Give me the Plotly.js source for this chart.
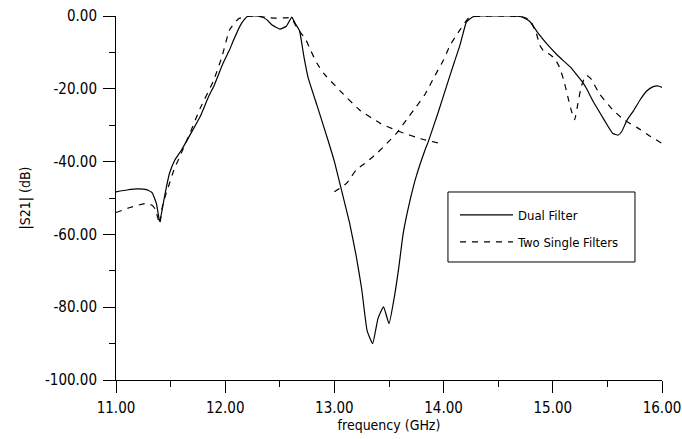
<!DOCTYPE html>
<html>
<head>
<meta charset="utf-8">
<script src="https://cdn.plot.ly/plotly-3.0.1.min.js"></script>
<style>html,body{margin:0;padding:0;background:#fff;}#chart{width:682px;height:439px;}</style>
</head>
<body>
<div id="chart"></div>
<script>
// Dual Filter |S21| (dB)
const dualFreq = [11.00,11.10,11.20,11.28,11.33,11.37,11.40,11.43,11.45,11.49,11.54,11.60,11.70,11.77,11.85,11.90,11.98,12.04,12.07,12.14,12.18,12.21,12.28,12.33,12.38,12.43,12.50,12.56,12.58,12.61,12.64,12.68,12.72,12.76,12.84,12.94,13.00,13.05,13.14,13.20,13.25,13.30,13.35,13.40,13.45,13.50,13.55,13.59,13.63,13.69,13.75,13.83,13.86,13.95,14.03,14.10,14.15,14.21,14.27,14.35,14.50,14.65,14.72,14.79,14.86,14.95,15.05,15.16,15.22,15.28,15.31,15.37,15.43,15.50,15.55,15.60,15.63,15.68,15.74,15.80,15.86,15.92,15.96,16.00];
const dualS21 = [-48.3,-47.8,-47.5,-47.7,-48.5,-51.5,-56.5,-52.0,-48.7,-43.2,-39.5,-36.8,-31.5,-27.7,-22.0,-19.0,-13.0,-9.3,-7.1,-2.5,-0.8,0.0,0.0,-0.2,-1.0,-2.5,-3.6,-2.8,-1.8,-0.3,-2.0,-4.0,-11.0,-17.0,-24.5,-34.0,-40.0,-46.0,-57.0,-66.0,-75.0,-86.5,-90.0,-83.0,-79.9,-84.5,-77.0,-69.0,-59.7,-51.0,-44.0,-36.8,-34.5,-26.5,-19.0,-12.5,-8.0,-1.6,-0.2,0.0,0.0,0.0,-0.3,-1.5,-4.5,-7.8,-11.0,-14.0,-16.2,-18.5,-20.0,-23.5,-26.5,-30.0,-32.3,-32.7,-31.8,-28.6,-26.0,-23.0,-20.6,-19.4,-19.2,-19.6];

// Single filter 1 (lower band)
const single1Freq = [11.00,11.13,11.27,11.33,11.36,11.40,11.43,11.48,11.53,11.59,11.68,11.77,11.89,11.97,12.04,12.12,12.20,12.30,12.40,12.47,12.55,12.60,12.62,12.65,12.74,12.78,12.84,12.90,13.05,13.23,13.42,13.60,13.80,14.00];
const single1S21 = [-54.0,-52.6,-51.5,-52.0,-53.1,-57.1,-51.5,-46.9,-42.3,-38.2,-32.0,-25.4,-18.0,-11.2,-3.8,-0.8,-0.1,-0.1,-0.5,-0.6,-0.5,-0.5,-1.1,-2.9,-6.6,-9.3,-13.0,-15.7,-20.5,-25.8,-29.5,-31.8,-33.8,-35.2];

// Single filter 2 (upper band)
const single2Freq = [13.00,13.11,13.20,13.30,13.39,13.48,13.57,13.66,13.75,13.83,13.91,14.00,14.06,14.15,14.23,14.29,14.50,14.72,14.79,14.85,14.88,14.92,14.97,15.02,15.06,15.10,15.14,15.17,15.20,15.23,15.26,15.29,15.31,15.35,15.43,15.55,15.65,15.77,15.88,16.00];
const single2S21 = [-48.3,-46.0,-42.3,-40.0,-37.7,-35.0,-32.2,-28.5,-24.9,-21.5,-17.0,-12.0,-8.0,-3.8,-0.5,-0.1,0.0,-0.2,-1.1,-4.8,-8.0,-9.8,-10.5,-11.8,-14.0,-17.6,-22.5,-26.0,-28.5,-24.0,-19.5,-17.0,-16.3,-17.3,-21.5,-25.8,-28.5,-30.6,-32.8,-35.0];

const xTickVals = [11,12,13,14,15,16];
const xTickText = ['11.00','12.00','13.00','14.00','15.00','16.00'];
const xMinorVals = [11.5,12.5,13.5,14.5,15.5];
const yTickVals = [0,-20,-40,-60,-80,-100];
const yTickText = ['0.00','-20.00','-40.00','-60.00','-80.00','-100.00'];
const yMinorVals = [-10,-30,-50,-70,-90];

const FONT = '"DejaVu Sans Condensed", "DejaVu Sans", sans-serif';

const traces = [
  {x: dualFreq, y: dualS21, mode: 'lines', name: 'Dual Filter', legendgroup: 'a',
   line: {color: '#000', width: 1.2, shape: 'spline', smoothing: 0.4}},
  {x: single1Freq, y: single1S21, mode: 'lines', name: 'Two Single Filters', legendgroup: 'b',
   line: {color: '#000', width: 1.2, dash: '6px,6px', shape: 'spline', smoothing: 0.4}},
  {x: single2Freq, y: single2S21, mode: 'lines', name: 'Two Single Filters', legendgroup: 'b', showlegend: false,
   line: {color: '#000', width: 1.2, dash: '6px,6px', shape: 'spline', smoothing: 0.4}}
];

const axisCommon = {
  showline: true, linecolor: '#000', linewidth: 1, showgrid: false, zeroline: false,
  ticks: 'outside', ticklen: 12, tickwidth: 1, tickcolor: '#000', tickmode: 'array',
  tickfont: {family: FONT, size: 15, color: '#000'}
};

const layout = {
  width: 682, height: 439,
  margin: {l: 116, r: 20, t: 16, b: 59},
  paper_bgcolor: '#fff', plot_bgcolor: '#fff',
  font: {family: FONT, color: '#000'},
  showlegend: true,
  xaxis: Object.assign({}, axisCommon, {
    range: [11, 16], tickvals: xTickVals, ticktext: xTickText, ticklabelstandoff: 2,
    minor: {tickmode: 'array', tickvals: xMinorVals, ticks: 'outside', ticklen: 6, tickcolor: '#000', tickwidth: 1},
    title: {text: 'frequency (GHz)', font: {family: FONT, size: 14, color: '#000'}, standoff: 4}
  }),
  yaxis: Object.assign({}, axisCommon, {
    range: [-100, 0], tickvals: yTickVals, ticktext: yTickText, ticklabelstandoff: 3,
    minor: {tickmode: 'array', tickvals: yMinorVals, ticks: 'outside', ticklen: 6, tickcolor: '#000', tickwidth: 1},
    title: {text: '|S21| (dB)', font: {family: FONT, size: 14, color: '#000'}, standoff: 11}
  }),
  shapes: [
    {type: 'rect', xref: 'paper', yref: 'paper', x0: 0.608, x1: 0.9505, y0: 0.3242, y1: 0.5165,
     line: {color: '#000', width: 1}, fillcolor: '#fff', layer: 'above'}
  ],
  legend: {
    x: 0.6209, y: 0.4945, xanchor: 'left', yanchor: 'top',
    bgcolor: 'rgba(0,0,0,0)', borderwidth: 0,
    font: {family: FONT, size: 13, color: '#000'},
    itemwidth: 53, tracegroupgap: 7, traceorder: 'grouped'
  }
};

Plotly.newPlot('chart', traces, layout, {displayModeBar: false, staticPlot: true});
</script>
</body>
</html>
